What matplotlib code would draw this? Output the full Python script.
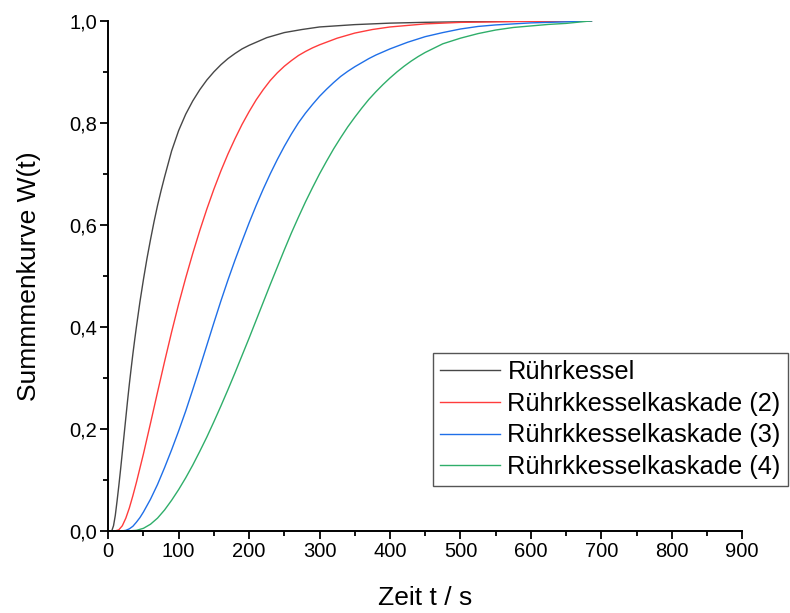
#!/usr/bin/python3
import matplotlib
matplotlib.use("Agg")
import matplotlib.pyplot as plt
from matplotlib.ticker import MultipleLocator, FuncFormatter

# Werte (Zeit in s, Summenkurve W(t))

tBlack = [0, 5, 7.5, 10, 12.5, 15, 17.5, 20, 22.5, 25, 27.5, 30, 32.5, 35, 37.5, 40, 45, 50, 55, 60, 65, 70, 75, 80,
          90, 100, 110, 120, 130, 140, 150, 160, 170, 180, 190, 200, 225, 250, 275, 300, 350, 400, 450, 500, 550, 600, 650, 686]
wBlack = [0, 0, 0.01, 0.03, 0.058, 0.088, 0.12, 0.154, 0.188, 0.222, 0.256, 0.288, 0.318, 0.347, 0.374, 0.40, 0.449, 0.493, 0.534, 0.571, 0.606, 0.638, 0.667, 0.694,
          0.745, 0.785, 0.817, 0.843, 0.865, 0.884, 0.900, 0.914, 0.926, 0.936, 0.945, 0.952, 0.967, 0.977, 0.983, 0.988, 0.9926, 0.9955, 0.9971, 0.9981, 0.9988, 0.9993, 0.9997, 1.0]

tRed = [0, 10, 15, 20, 25, 30, 35, 40, 50, 60, 70, 80, 90, 100, 110, 120, 130, 140, 150, 160, 170, 180, 190, 200,
        210, 220, 230, 240, 250, 260, 270, 280, 290, 300, 325, 350, 375, 400, 425, 450, 500, 550, 600, 650, 686]
wRed = [0, 0, 0.002, 0.01, 0.025, 0.045, 0.069, 0.095, 0.151, 0.211, 0.272, 0.332, 0.39, 0.445, 0.496, 0.544, 0.589, 0.631, 0.67, 0.706, 0.739, 0.769, 0.797, 0.822,
        0.845, 0.865, 0.883, 0.898, 0.911, 0.922, 0.932, 0.940, 0.947, 0.953, 0.966, 0.976, 0.983, 0.988, 0.991, 0.994, 0.997, 0.998, 0.999, 0.9995, 1.0]

tBlue = [0, 20, 25, 30, 35, 40, 45, 50, 60, 70, 80, 90, 100, 110, 120, 130, 140, 150, 160, 170, 180, 190, 200, 210, 220, 230, 240,
         250, 260, 270, 280, 290, 300, 310, 320, 330, 340, 350, 360, 370, 380, 390, 400, 425, 450, 475, 500, 525, 550, 600, 650, 686]
wBlue = [0, 0, 0.001, 0.004, 0.009, 0.017, 0.026, 0.037, 0.062, 0.091, 0.124, 0.159, 0.196, 0.235, 0.277, 0.32, 0.364, 0.408, 0.451, 0.492, 0.531, 0.568, 0.604, 0.638, 0.67, 0.70, 0.728,
         0.754, 0.778, 0.80, 0.819, 0.836, 0.852, 0.866, 0.879, 0.891, 0.901, 0.910, 0.918, 0.926, 0.933, 0.939, 0.945, 0.958, 0.969, 0.977, 0.984, 0.989, 0.992, 0.996, 0.998, 1.0]

tGreen = [0, 30, 40, 50, 60, 70, 80, 90, 100, 110, 120, 130, 140, 150, 160, 170, 180, 190, 200, 210, 220, 230, 240, 250,
          260, 270, 280, 290, 300, 310, 320, 330, 340, 350, 360, 370, 380, 390, 400, 410, 420, 430, 440, 450, 475, 500,
          525, 550, 575, 600, 625, 650, 686]
wGreen = [0, 0, 0.001, 0.005, 0.013, 0.025, 0.041, 0.06, 0.081, 0.104, 0.129, 0.156, 0.184, 0.214, 0.245, 0.277, 0.31, 0.344, 0.378, 0.413, 0.448, 0.483, 0.517, 0.551,
          0.584, 0.615, 0.645, 0.673, 0.70, 0.725, 0.749, 0.771, 0.792, 0.811, 0.829, 0.846, 0.861, 0.875, 0.888, 0.90, 0.911, 0.921, 0.930, 0.938, 0.955, 0.966,
          0.975, 0.982, 0.987, 0.990, 0.993, 0.995, 1.0]

labels = ["Rührkessel", "Rührkkesselkaskade (2)", "Rührkkesselkaskade (3)", "Rührkkesselkaskade (4)"]
colors = ["#474747", "#ff3c3c", "#1f6fe8", "#2fae6a"]

xTicks = [0, 100, 200, 300, 400, 500, 600, 700, 800, 900]
yTicks = [0.0, 0.2, 0.4, 0.6, 0.8, 1.0]

plt.rcParams['font.family'] = ['Liberation Sans', 'DejaVu Sans']

fig = plt.figure(figsize=(7.9, 6.13), dpi=100)
ax = fig.add_axes([0.137, 0.134, 0.8025, 0.832])

series = [(tBlack, wBlack), (tRed, wRed), (tBlue, wBlue), (tGreen, wGreen)]
for (t, w), lab, col in zip(series, labels, colors):
    ax.plot(t, w, color=col, lw=1.0, label=lab)

ax.set_xlim(0, 900)
ax.set_ylim(0, 1.0)
ax.set_xticks(xTicks)
ax.set_yticks(yTicks)
ax.xaxis.set_minor_locator(MultipleLocator(50))
ax.yaxis.set_minor_locator(MultipleLocator(0.1))
ax.yaxis.set_major_formatter(FuncFormatter(lambda v, p: ("%.1f" % v).replace(".", ",")))

for s in ["top", "right"]:
    ax.spines[s].set_visible(False)
for s in ["left", "bottom"]:
    ax.spines[s].set_linewidth(1.4)

ax.tick_params(which="major", direction="out", length=6, width=1.3, labelsize=14.5, pad=2)
ax.tick_params(which="minor", direction="out", length=3.5, width=1.3)

ax.set_xlabel("Zeit t / s", fontsize=19, labelpad=18)
ax.set_ylabel("Summmenkurve W(t)", fontsize=19, labelpad=20)

leg = fig.legend(loc="upper left", bbox_to_anchor=(0.548, 0.424), bbox_transform=fig.transFigure,
                 fontsize=18.3, frameon=True, fancybox=False, framealpha=1, edgecolor="#555555",
                 handlelength=2.35, handletextpad=0.3, borderpad=0.28, labelspacing=0.3, borderaxespad=0)
leg.get_frame().set_linewidth(1.0)

fig.savefig("out.png", dpi=100)
